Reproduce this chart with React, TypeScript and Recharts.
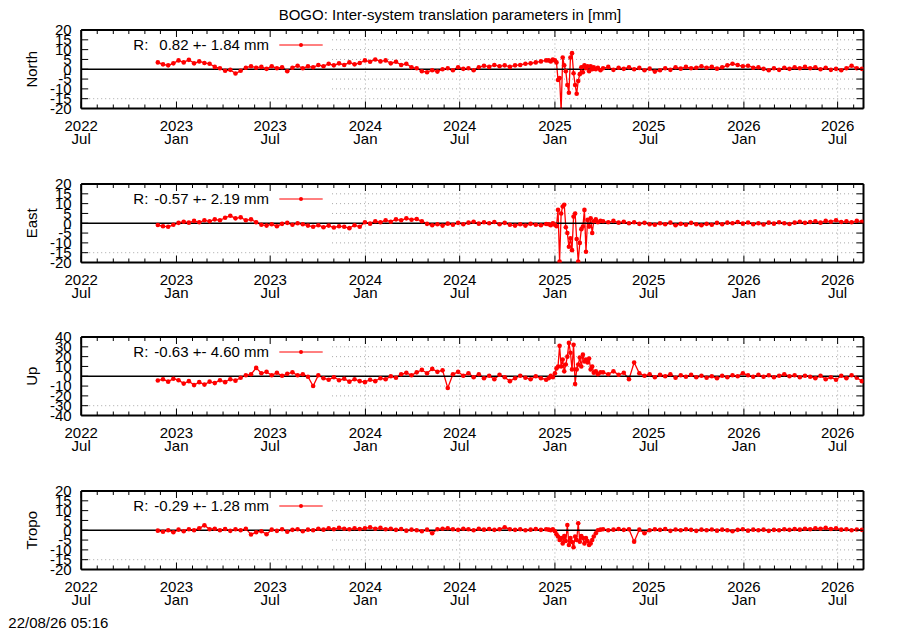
import React from 'react';
import { LineChart, Line, XAxis, YAxis, ReferenceLine, Legend } from 'recharts';

// ---- data (days since 2022-07-01) ----
const sampleDays = [
  148, 158, 168, 178, 188, 198, 208, 218, 228, 238,
  248, 258, 268, 278, 288, 298, 308, 318, 328, 338,
  348, 358, 368, 378, 388, 398, 408, 418, 428, 438,
  448, 458, 468, 478, 488, 498, 508, 518, 528, 538,
  548, 558, 568, 578, 588, 598, 608, 618, 628, 638,
  648, 658, 668, 678, 688, 698, 708, 718, 728, 738,
  748, 758, 768, 778, 788, 798, 808, 818, 828, 838,
  848, 858, 868, 878, 888, 898,
  903, 907, 911, 915, 918, 921, 924, 927, 930, 933,
  936, 939, 942, 945, 948, 951, 954, 957, 960, 963,
  966, 969, 972, 975, 978, 981, 984, 987, 990, 994,
  998, 1003,
  1008, 1018, 1028, 1038, 1048, 1058, 1068, 1078, 1088, 1098,
  1108, 1118, 1128, 1138, 1148, 1158, 1168, 1178, 1188, 1198,
  1208, 1218, 1228, 1238, 1248, 1258, 1268, 1278, 1288, 1298,
  1308, 1318, 1328, 1338, 1348, 1358, 1368, 1378, 1388, 1398,
  1408, 1418, 1428, 1438, 1448, 1458, 1468, 1478, 1488, 1498,
  1508,
];

const northValues = [
  3.5, 2.5, 2.0, 3.0, 4.5, 3.5, 4.8, 3.0, 4.0, 3.2,
  2.8, 1.2, 0.5, -0.8, -0.3, -2.2, -0.8, 0.8, 1.5, 0.8,
  1.2, 0.2, 1.5, 0.5, 1.0, -1.0, 0.8, 1.8, 0.5, 1.5,
  1.0, 2.2, 1.5, 2.8, 2.0, 3.0, 2.2, 3.5, 2.5, 3.2,
  4.5, 3.8, 5.0, 4.0, 4.5, 3.0, 3.8, 2.2, 2.8, 1.0,
  0.5, -1.0, -1.5, -0.5, -1.2, 0.0, 0.5, -0.5, 1.0, 0.2,
  0.5, -0.5, 1.0, 1.8, 1.2, 2.2, 1.5, 2.0, 1.2, 2.0,
  2.2, 2.8, 3.0, 3.5, 4.0, 4.5,
  4.5, 4.0, 5.0, 4.5, 3.5, -5.5, -4.5, -21.0, 6.0, 2.0,
  -1.0, -8.0, -12.0, 6.0, 8.2, -2.0, -8.0, -12.5, -6.0, -2.5,
  1.0, -1.5, 2.0, 0.5, 1.5, -1.0, 1.5, 0.0, 1.0, 0.0,
  0.8, -0.5,
  0.5, 1.2, -0.3, 0.8, 0.2, 1.0, 0.0, 0.7, -0.5, 0.3,
  -1.2, -0.5, 0.5, -0.3, 1.0, 0.3, 1.2, 0.5, 0.8, 1.5,
  0.8, 1.2, 0.3, 1.0, 2.0, 2.8, 2.2, 1.5, 1.8, 0.8,
  1.0, 0.2, -0.5, 0.5, -0.3, 0.8, 0.2, 1.0, 0.5, 1.2,
  0.5, 1.0, 0.0, 0.8, -0.3, 0.2, -0.5, 0.5, 1.8, 0.5,
  0.2,
];

const eastValues = [
  -0.9, -1.5, -1.8, -0.8, 0.2, 0.8, 0.3, 1.2, 0.5, 1.5,
  1.0, 2.0, 1.5, 2.8, 3.8, 2.5, 3.0, 1.5, 2.0, 0.5,
  -0.8, -1.2, -0.5, -1.5, -0.3, 0.2, -0.8, 0.0, -0.5, -1.2,
  -1.8, -1.0, -2.0, -1.2, -2.2, -1.5, -1.8, -2.5, -1.0, -1.8,
  0.5, -0.2, 1.0, 0.5, 1.5, 0.8, 2.0, 1.5, 2.5, 1.8,
  2.2, 1.0, -0.3, -1.0, -0.5, -1.2, -0.2, -0.8, 0.2, -0.5,
  0.3, 0.8, -0.2, 0.5, 0.0, 0.6, -0.5, 0.2, -0.8, -1.2,
  -0.5, -1.2, -0.3, -0.8, -1.0, -0.4,
  -0.5, -1.0, 0.0, -0.8, -1.5, 6.8, -19.5, 5.0, 8.5, 9.4,
  -2.0, -5.0, -12.0, -7.7, -13.7, 3.4, 5.0, -8.0, -19.5, -10.0,
  -3.0, -1.7, 6.8, -14.5, 1.7, -1.7, 2.5, -5.0, 1.0, 2.0,
  0.5, 1.2,
  1.0, 0.5, 1.2, 0.3, 0.8, 0.0, 0.5, -0.3, 0.2, -0.5,
  -0.8, 0.0, -0.5, 0.3, -1.0, -0.3, -0.8, 0.2, -0.5, -1.0,
  -0.3, -0.8, 0.2, -0.5, 0.3, 0.0, 0.6, -0.2, 0.4, -0.5,
  0.0, -0.6, 0.3, -0.2, 0.5, 0.0, -0.4, 0.3, 0.8, 0.2,
  0.6, 1.0, 0.3, 1.2, 0.8, 1.5, 0.6, 1.0, 0.5, 1.2,
  0.8,
];

const upValues = [
  -4.4, -3.0, -5.5, -2.5, -4.0, -7.5, -5.0, -9.0, -6.0, -8.5,
  -5.5, -7.0, -4.0, -6.0, -3.0, -4.5, -1.5, 1.0, 2.0, 8.5,
  3.0, 4.5, 1.0, 3.5, 0.5, 2.5, 4.0, 1.0, 2.0, -0.5,
  -10.0, 1.0, -2.0, -3.5, -1.0, -4.0, -2.5, -5.5, -3.0, -5.0,
  -6.0, -3.5, -5.0, -2.0, -3.0, 0.0, -1.5, 2.0, 3.5, 1.0,
  4.0, 6.5, 3.0, 7.5, 4.5, 6.0, -12.0, 2.0, 4.5, 0.5,
  3.0, -1.0, 2.0, -2.0, 0.5, -3.0, 1.5, -1.0, -5.0, -2.0,
  0.5, -1.5, -3.0, 0.0, -2.0, -3.5,
  -2.0, 0.5, -1.0, 3.0, 8.0, 10.0, 31.0, 10.0, 17.0, 5.0,
  12.0, 20.0, 34.0, 24.0, 7.0, 32.0, -8.0, 7.0, 12.0, 19.0,
  10.0, 22.0, 15.0, 17.0, 14.0, 18.0, 7.0, 10.0, 3.5, 5.0,
  2.0, 4.0,
  4.0, 2.0, 5.0, 1.5, 3.5, -3.0, 14.0, 3.0, 0.5, 2.0,
  -1.0, 1.5, 0.0, 2.0, -1.5, 1.0, -0.5, 1.5, -1.0, 0.5,
  -1.5, 0.0, -2.0, 0.5, -1.0, 1.0, 0.0, 3.0, 1.0, -0.5,
  1.5, -0.5, 1.0, -1.0, 0.5, 2.0, 0.0, 1.0, -1.0, 0.5,
  -0.5, -2.0, 0.5, -3.0, -1.0, -3.5, 0.5, -2.0, 1.0, -1.5,
  -5.0,
];

const tropoValues = [
  -0.2, -0.8, 0.0, -1.0, 0.3, -0.5, 0.5, 0.0, 1.0, 2.5,
  0.5, 0.8, 0.0, 0.6, -0.3, 0.5, 0.0, 0.8, -2.2, -1.0,
  -0.5, -2.0, 0.3, -0.3, 0.5, -0.8, 0.2, 0.5, -0.5, 0.3,
  0.0, 0.8, 0.3, 1.0, 0.5, 1.2, 0.8, 0.5, 1.0, 0.6,
  1.0, 1.5, 0.8, 1.2, 0.5, 0.8, 0.2, 0.6, -0.2, 0.3,
  0.0, -0.5, 0.3, -1.5, 0.5, 0.8, 1.0, 0.5, 0.2, 0.8,
  0.5, 0.0, 0.8, 0.3, 0.6, 0.2, 0.5, 1.5, 0.5, 0.2,
  0.5, 0.0, 0.3, 0.6, 0.2, 0.5,
  0.3, 0.0, 0.5, -0.5, -2.0, -3.2, -5.0, -4.0, -6.7, -3.0,
  -5.5, 2.7, -7.5, -4.0, -6.0, -8.7, -3.2, -5.0, 3.6, -5.8,
  -3.0, -4.0, -6.7, -4.0, -5.5, -7.5, -6.7, -5.0, -3.2, -1.5,
  0.0, 0.3,
  0.5, 0.0, 0.3, 0.6, 0.2, 0.5, -5.8, 0.3, -1.5, 0.0,
  0.5, 0.2, 0.6, -0.3, 0.4, 0.0, 0.5, 0.2, -0.3, 0.3,
  0.0, 0.4, -0.2, 0.3, 0.0, -0.5, 0.2, 0.5, -0.2, 0.3,
  0.0, 0.3, -0.3, 0.2, 0.0, 0.5, 0.2, 0.6, 0.3, 0.8,
  0.5, 1.0, 0.8, 1.2, 0.6, 1.0, 0.3, 0.5, 0.0, 0.4,
  0.2,
];

const panelNames = ['North', 'East', 'Up', 'Tropo'];
const panelSeries = [northValues, eastValues, upValues, tropoValues];
const legendTexts = ['0.82 +- 1.84 mm', '-0.57 +- 2.19 mm', '-0.63 +- 4.60 mm', '-0.29 +- 1.28 mm'];
const yLimits = [20, 20, 40, 20];
const yTickSteps = [5, 5, 10, 5];
const chartTitle = 'BOGO: Inter-system translation parameters in [mm]';
const timestamp = '22/08/26 05:16';

// ---- layout ----
const W = 900;
const H = 630;
const PLOT_LEFT = 81.2;
const PLOT_RIGHT = 863.5;
const PLOT_H = 78.5;
const PANEL_TOPS = [30, 183.5, 337, 490.5];
const CHART_H = 150;
const PAD_TOP = 10;
const AX = 1; // thickness reserved by each axis
const X_END_DAY = 1511;
const KEY_END_DAY = 484.5;
const RED = '#ff0000';
const GRID = '#a8a8a8';
const FONT = 'Liberation Sans, Arial, sans-serif';
const textStyle = { fontFamily: FONT, fontSize: 15, fill: '#000' };

const X_START = Date.UTC(2022, 6, 1);
const DAY_MS = 86400000;
const monthTicks: number[] = [];
const majorLabels = new Map<number, [string, string]>();
for (let k = 0; k < 50; k++) {
  const yr = 2022 + Math.floor((6 + k) / 12);
  const mo = (6 + k) % 12;
  const d = Math.round((Date.UTC(yr, mo, 1) - X_START) / DAY_MS);
  if (d <= X_END_DAY) {
    monthTicks.push(d);
    if (mo === 0 || mo === 6) majorLabels.set(d, [String(yr), mo === 0 ? 'Jan' : 'Jul']);
  }
}
const majorDays = Array.from(majorLabels.keys());

const PLOT_BOTTOM_IN_CHART = PAD_TOP + PLOT_H;

const BottomTick = (props: any) => {
  const { x, payload } = props;
  const y = PLOT_BOTTOM_IN_CHART;
  const lab = majorLabels.get(payload.value);
  const len = lab ? 7 : 4;
  return (
    <g>
      <line x1={x} x2={x} y1={y} y2={y - len} stroke="#000" strokeWidth={1} />
      {lab && (
        <text x={x} y={y + 22} textAnchor="middle" style={textStyle}>{lab[0]}</text>
      )}
      {lab && (
        <text x={x} y={y + 35.5} textAnchor="middle" style={textStyle}>{lab[1]}</text>
      )}
    </g>
  );
};

const TopTick = (props: any) => {
  const { x, payload } = props;
  const y = PAD_TOP;
  const len = majorLabels.has(payload.value) ? 7 : 4;
  return <line x1={x} x2={x} y1={y} y2={y + len} stroke="#000" strokeWidth={1} />;
};

const LeftTick = (props: any) => {
  const { y, payload } = props;
  const x = PLOT_LEFT;
  return (
    <g>
      <line x1={x} x2={x + 7} y1={y} y2={y} stroke="#000" strokeWidth={1} />
      <text x={x - 9.5} y={y} dy="0.35em" textAnchor="end" style={textStyle}>{payload.value}</text>
    </g>
  );
};

const RightTick = (props: any) => {
  const { y } = props;
  const x = PLOT_RIGHT;
  return <line x1={x} x2={x - 7} y1={y} y2={y} stroke="#000" strokeWidth={1} />;
};

function makeLegend(text: string) {
  return () => (
    <svg width={W} height={40} style={{ display: 'block', overflow: 'visible' }}>
      <text x={133.3} y={PAD_TOP + 20} style={textStyle}>R:</text>
      <text x={269} y={PAD_TOP + 20} textAnchor="end" style={textStyle}>{text}</text>
      <line x1={279.3} x2={322.7} y1={PAD_TOP + 15} y2={PAD_TOP + 15} stroke={RED} strokeWidth={1} />
      <circle cx={301} cy={PAD_TOP + 15} r={2} fill={RED} />
    </svg>
  );
}

function Panel({ idx }: { idx: number }) {
  const values = panelSeries[idx];
  const data = sampleDays.map((d, i) => ({ day: d, value: values[i] }));
  const L = yLimits[idx];
  const step = yTickSteps[idx];
  const yTicks: number[] = [];
  for (let v = L; v >= -L; v -= step) yTicks.push(v);
  const gridYs = yTicks.filter((v) => v !== 0 && Math.abs(v) !== L);
  const cy = PAD_TOP + PLOT_H / 2;
  const name = panelNames[idx];
  return (
    <div style={{ position: 'absolute', left: 0, top: PANEL_TOPS[idx] - PAD_TOP, width: W, height: CHART_H }}>
      <LineChart
        width={W}
        height={CHART_H}
        data={data}
        margin={{
          top: PAD_TOP - AX,
          right: W - PLOT_RIGHT - AX,
          bottom: CHART_H - PAD_TOP - PLOT_H - AX,
          left: PLOT_LEFT - AX,
        }}
      >
        <XAxis
          dataKey="day"
          type="number"
          domain={[0, X_END_DAY]}
          allowDataOverflow
          ticks={monthTicks}
          interval={0}
          height={AX}
          tickSize={0}
          tickMargin={0}
          tick={<BottomTick />}
          axisLine={{ stroke: '#000', strokeWidth: 2 }}
          tickLine={false}
        />
        <XAxis
          xAxisId="top"
          orientation="top"
          dataKey="day"
          type="number"
          domain={[0, X_END_DAY]}
          allowDataOverflow
          ticks={monthTicks}
          interval={0}
          height={AX}
          tickSize={0}
          tickMargin={0}
          tick={<TopTick />}
          axisLine={{ stroke: '#000', strokeWidth: 2 }}
          tickLine={false}
        />
        <YAxis
          type="number"
          domain={[-L, L]}
          allowDataOverflow
          ticks={yTicks}
          interval={0}
          width={AX}
          tickSize={0}
          tickMargin={0}
          tick={<LeftTick />}
          axisLine={{ stroke: '#000', strokeWidth: 2 }}
          tickLine={false}
          label={() => (
            <text
              x={31.5}
              y={cy}
              dy="0.35em"
              textAnchor="middle"
              transform={`rotate(-90 31.5 ${cy})`}
              style={textStyle}
            >
              {name}
            </text>
          )}
        />
        <YAxis
          yAxisId="right"
          orientation="right"
          type="number"
          domain={[-L, L]}
          allowDataOverflow
          ticks={yTicks}
          interval={0}
          width={AX}
          tickSize={0}
          tickMargin={0}
          tick={<RightTick />}
          axisLine={{ stroke: '#000', strokeWidth: 2 }}
          tickLine={false}
        />
        {gridYs.map((v) => (
          <ReferenceLine
            key={'h' + v}
            segment={[
              { x: v === -L + step ? 0 : KEY_END_DAY, y: v },
              { x: X_END_DAY, y: v },
            ]}
            stroke={GRID}
            strokeWidth={1}
            strokeDasharray="1 3"
          />
        ))}
        {majorDays
          .filter((d) => d > KEY_END_DAY)
          .map((d) => (
            <ReferenceLine key={'v' + d} x={d} stroke={GRID} strokeWidth={1} strokeDasharray="1 3" />
          ))}
        <Line
          type="linear"
          dataKey="value"
          stroke={RED}
          strokeWidth={1.3}
          dot={{ r: 2.3, fill: RED, stroke: RED, strokeWidth: 0 }}
          activeDot={false}
          isAnimationActive={false}
        />
        <ReferenceLine y={0} stroke="#000" strokeWidth={1.5} />
        <Legend
          layout="horizontal"
          verticalAlign="middle"
          align="center"
          width={W}
          height={40}
          wrapperStyle={{ left: 0, top: 0, width: W, height: 40, margin: 0, padding: 0 }}
          content={makeLegend(legendTexts[idx])}
        />
      </LineChart>
    </div>
  );
}

export default function App() {
  return (
    <div
      style={{
        position: 'absolute',
        left: 0,
        top: 0,
        width: W,
        height: H,
        overflow: 'hidden',
        background: '#fff',
      }}
    >
      <svg width={W} height={H} style={{ position: 'absolute', left: 0, top: 0 }}>
        <text x={450} y={20} textAnchor="middle" style={textStyle}>{chartTitle}</text>
        <text x={8.3} y={628} style={textStyle}>{timestamp}</text>
      </svg>
      {panelNames.map((_, i) => (
        <Panel key={i} idx={i} />
      ))}
    </div>
  );
}
